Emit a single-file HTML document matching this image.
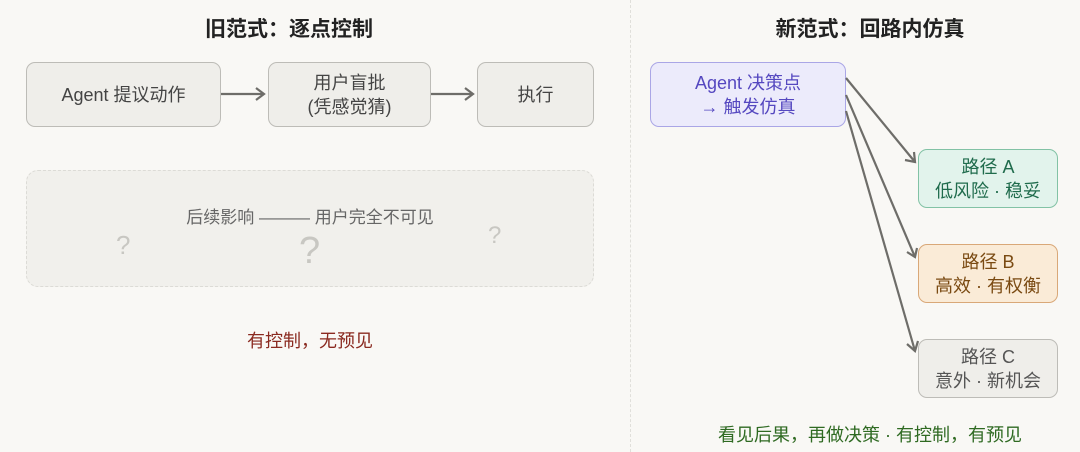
<!DOCTYPE html>
<html><head><meta charset="utf-8"><style>
body{margin:0;width:1080px;height:452px;background:#f9f8f5;font-family:"Liberation Sans","Noto Sans CJK SC",sans-serif;position:relative;overflow:hidden}
.b{position:absolute;box-sizing:border-box;border-radius:9px;display:flex;align-items:center;justify-content:center;text-align:center;font-size:18px;line-height:24px}
.g{background:#efeeea;border:1.5px solid #bdbcb7;color:#444}
.t{position:absolute;font-weight:bold;font-size:21px;color:#222;transform:translateX(-50%);white-space:nowrap}
</style></head><body>
<div class="t" style="left:289px;top:13px">旧范式：逐点控制</div>
<div class="t" style="left:870px;top:13px">新范式：回路内仿真</div>
<div style="position:absolute;left:630px;top:0;height:452px;border-left:1.5px dashed #e0dfda"></div>
<div class="b g" style="left:26px;top:62px;width:195px;height:65px">Agent 提议动作</div>
<div class="b g" style="left:268px;top:62px;width:163px;height:65px">用户盲批<br>(凭感觉猜)</div>
<div class="b g" style="left:477px;top:62px;width:117px;height:65px">执行</div>
<div style="position:absolute;left:26px;top:170px;width:568px;height:117px;box-sizing:border-box;border:1.5px dashed #dcdbd6;border-radius:12px;background:#f1f0ec"></div>
<div style="position:absolute;left:0;width:620px;top:203px;text-align:center;font-size:17px;color:#666">后续影响 ——— 用户完全不可见</div>
<div style="position:absolute;left:116px;top:230px;font-size:26px;color:#c8c7c2">?</div>
<div style="position:absolute;left:299px;top:230px;font-size:38px;color:#c8c7c2">?</div>
<div style="position:absolute;left:488px;top:222px;font-size:24px;color:#c8c7c2">?</div>
<div style="position:absolute;left:0;width:620px;top:327px;text-align:center;font-size:18px;color:#8a2a20">有控制，无预见</div>
<div class="b" style="left:650px;top:62px;width:196px;height:65px;background:#ecebfb;border:1.5px solid #aaa6e6;color:#5548c0">Agent 决策点<br>→ 触发仿真</div>
<div class="b" style="left:918px;top:149px;width:140px;height:59px;background:#e2f3ec;border:1.5px solid #82c2a5;color:#1f6b4c">路径 A<br>低风险 · 稳妥</div>
<div class="b" style="left:918px;top:244px;width:140px;height:59px;background:#faebd7;border:1.5px solid #d9a878;color:#7a4a12">路径 B<br>高效 · 有权衡</div>
<div class="b g" style="left:918px;top:339px;width:140px;height:59px;color:#555">路径 C<br>意外 · 新机会</div>
<div style="position:absolute;left:640px;width:460px;top:421px;text-align:center;font-size:18px;color:#2f6a22">看见后果，再做决策 · 有控制，有预见</div>
<svg width="1080" height="452" style="position:absolute;left:0;top:0">
<g stroke="#6e6d69" stroke-width="2.2" fill="none">
<line x1="221" y1="94" x2="264" y2="94"/><polyline points="256,88 264,94 256,100"/>
<line x1="431" y1="94" x2="473" y2="94"/><polyline points="465,88 473,94 465,100"/>
<line x1="846" y1="78" x2="915" y2="162"/><polyline points="905,160 915,162 914,152"/>
<line x1="846" y1="95" x2="915" y2="257"/><polyline points="907,252 915,257 917,248"/>
<line x1="846" y1="111" x2="915" y2="351"/><polyline points="907,344 915,351 918,341"/>
</g></svg>
</body></html>
